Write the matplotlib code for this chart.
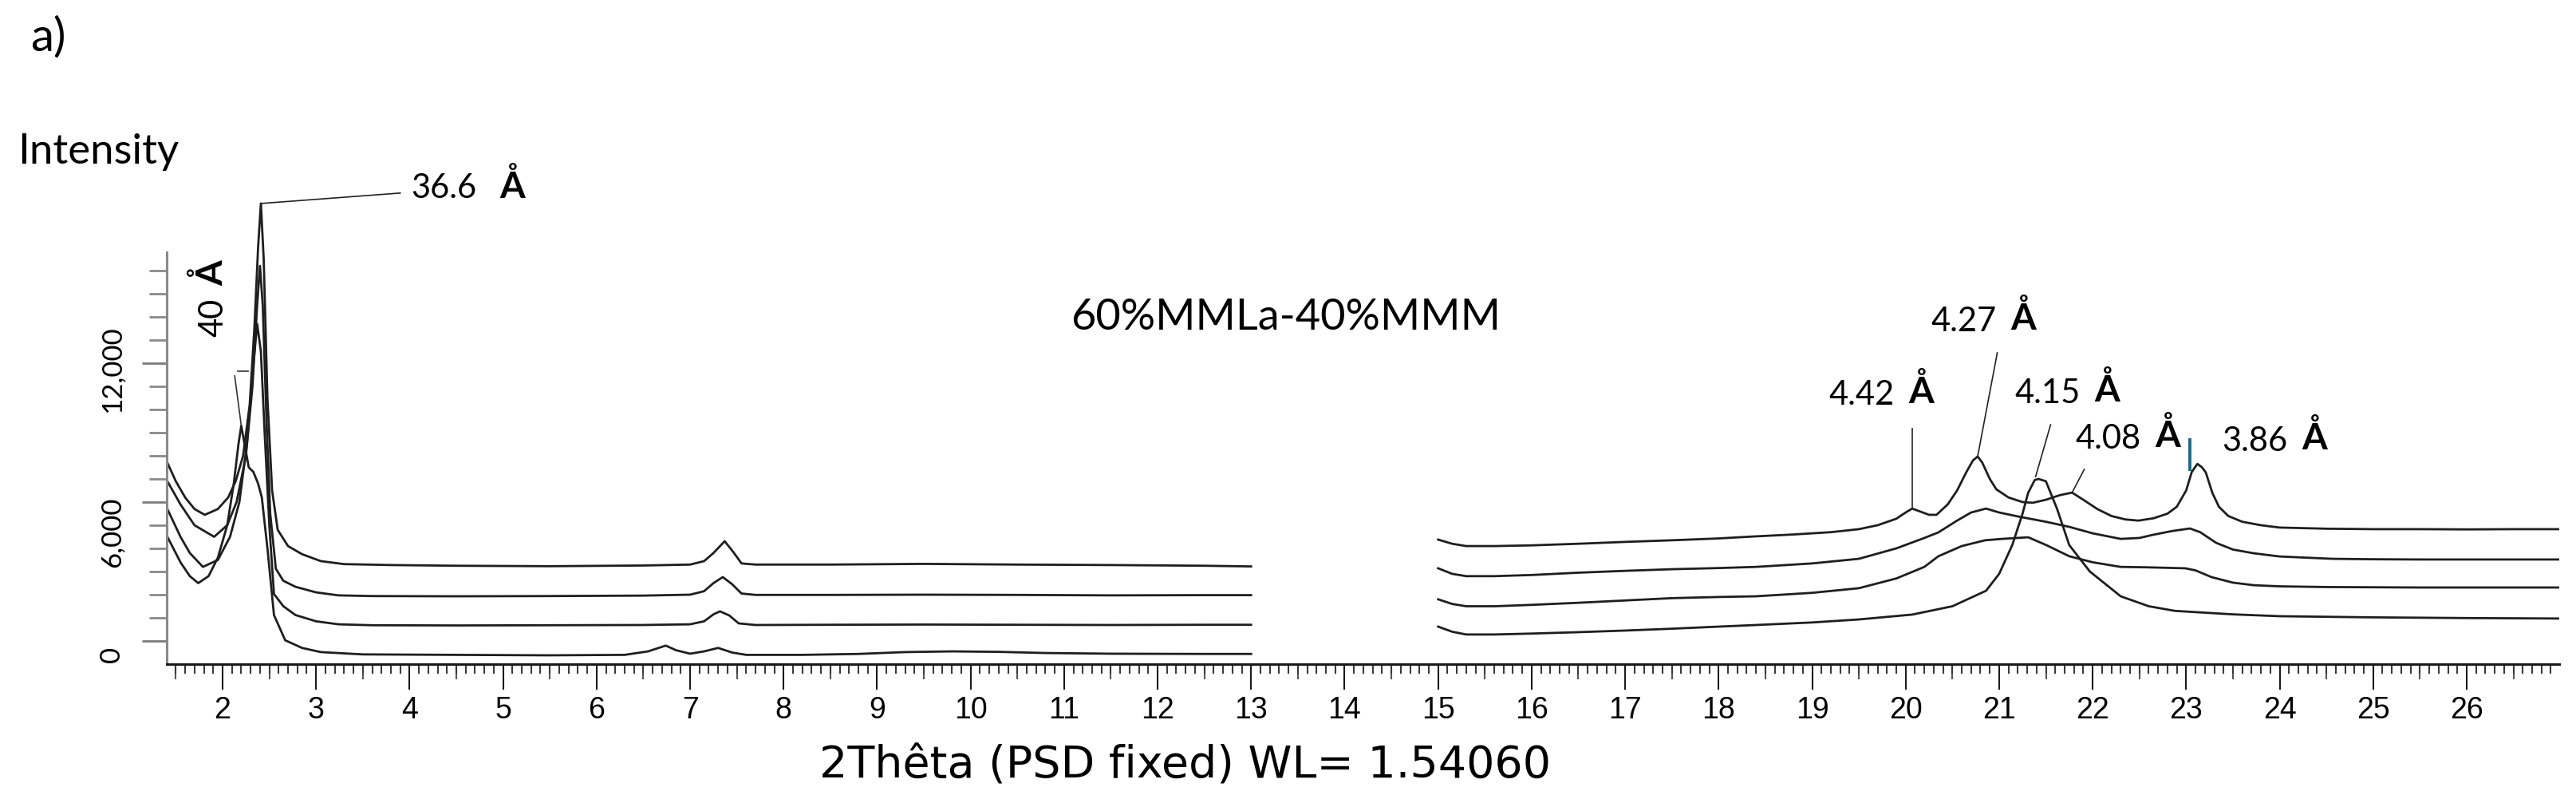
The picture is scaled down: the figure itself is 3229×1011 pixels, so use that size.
import numpy as np
import matplotlib
matplotlib.use("Agg")
import matplotlib.pyplot as plt
import matplotlib.transforms as mtransforms
from matplotlib.ticker import MultipleLocator, FixedLocator

# ---------------- data (2theta in degrees, intensity in counts) ----------------
# Curve A (top trace)
a_left_x = [1.41, 1.50, 1.60, 1.70, 1.81, 1.95, 2.06, 2.14, 2.22, 2.29, 2.34, 2.38, 2.41, 2.44, 2.48,
            2.53, 2.59, 2.70, 2.85, 3.05, 3.30, 3.80, 4.50, 5.50, 6.50, 7.00, 7.15, 7.25, 7.37, 7.47,
            7.55, 7.70, 8.50, 9.50, 10.50, 11.50, 12.50, 13.00]
a_left_y = [7700, 6900, 6200, 5700, 5450, 5700, 6200, 6900, 8000, 10200, 13500, 17000, 18900, 16500, 10500,
            6500, 4800, 4100, 3750, 3450, 3320, 3280, 3250, 3230, 3260, 3300, 3450, 3800, 4310, 3800,
            3350, 3300, 3300, 3330, 3300, 3280, 3250, 3220]
a_right_x = [15.0, 15.15, 15.3, 15.6, 16.0, 16.5, 17.0, 17.5, 18.0, 18.4, 18.8, 19.2, 19.5, 19.7, 19.9,
             20.0, 20.07, 20.15, 20.25, 20.33, 20.45, 20.55, 20.65, 20.72, 20.77, 20.82, 20.9, 20.97,
             21.1, 21.25, 21.36, 21.5, 21.65, 21.78, 21.9, 22.05, 22.2, 22.35, 22.49, 22.65, 22.8,
             22.9, 23.0, 23.06, 23.12, 23.17, 23.21, 23.28, 23.35, 23.45, 23.6, 23.8, 24.0, 24.5,
             25.0, 25.5, 26.0, 26.5, 26.99]
a_right_y = [4380, 4200, 4100, 4100, 4130, 4200, 4280, 4350, 4430, 4520, 4600, 4700, 4830, 5000, 5280,
             5550, 5720, 5600, 5450, 5450, 5900, 6500, 7300, 7800, 7970, 7700, 7000, 6550,
             6200, 6000, 5970, 6100, 6300, 6410, 6100, 5700, 5400, 5250, 5200, 5300, 5500,
             5800, 6500, 7300, 7650, 7500, 7280, 6400, 5800, 5400, 5150, 5000, 4900, 4850,
             4830, 4830, 4820, 4830, 4830]

# Curve B
b_left_x = [1.41, 1.55, 1.70, 1.91, 2.05, 2.15, 2.25, 2.32, 2.37, 2.40, 2.43, 2.47, 2.51, 2.57, 2.65,
            2.78, 3.00, 3.24, 3.60, 4.50, 5.50, 6.50, 7.00, 7.15, 7.25, 7.35, 7.45, 7.55, 7.70, 8.50,
            9.50, 10.50, 11.50, 12.50, 13.00]
b_left_y = [6900, 5900, 5000, 4500, 5000, 6000, 8000, 11000, 14500, 16200, 14500, 9500, 5500, 3120, 2600,
            2340, 2100, 1970, 1940, 1930, 1940, 1960, 2000, 2150, 2500, 2760, 2450, 2050, 1990, 1990,
            2000, 1990, 1970, 1980, 1980]
b_right_x = [15.0, 15.15, 15.3, 15.6, 16.0, 16.5, 17.0, 17.5, 18.0, 18.4, 19.0, 19.5, 19.9, 20.2, 20.35,
             20.55, 20.7, 20.86, 21.0, 21.2, 21.5, 21.75, 22.0, 22.3, 22.5, 22.65, 22.85, 23.04, 23.15,
             23.32, 23.5, 23.72, 24.0, 24.56, 25.0, 25.5, 26.0, 26.5, 26.99]
b_right_y = [3140, 2900, 2800, 2800, 2850, 2950, 3030, 3100, 3150, 3200, 3350, 3550, 4000, 4450, 4690,
             5200, 5550, 5720, 5550, 5380, 5150, 4930, 4650, 4410, 4450, 4590, 4750, 4860, 4700,
             4240, 3950, 3790, 3650, 3550, 3530, 3520, 3520, 3520, 3520]

# Curve C
c_left_x = [1.41, 1.55, 1.65, 1.79, 1.95, 2.08, 2.18, 2.26, 2.32, 2.37, 2.41, 2.45, 2.50, 2.55, 2.65,
            2.78, 3.00, 3.24, 3.60, 4.50, 5.50, 6.50, 7.00, 7.15, 7.25, 7.32, 7.42, 7.52, 7.70, 8.50,
            9.50, 10.50, 11.50, 12.50, 13.00]
c_left_y = [5700, 4500, 3800, 3200, 3500, 4500, 6000, 8500, 11500, 13700, 12500, 9000, 5000, 2030, 1500,
            1120, 850, 720, 680, 670, 680, 690, 720, 850, 1150, 1280, 1100, 760, 690, 700,
            710, 700, 690, 700, 700]
c_right_x = [15.0, 15.15, 15.3, 15.6, 16.0, 16.5, 17.0, 17.5, 18.0, 18.4, 19.0, 19.5, 19.9, 20.2, 20.35,
             20.6, 20.85, 21.03, 21.31, 21.5, 21.75, 22.0, 22.3, 22.6, 22.99, 23.1, 23.27, 23.5, 23.72,
             24.0, 24.5, 25.0, 25.5, 26.0, 26.5, 26.99]
c_right_y = [1800, 1600, 1500, 1500, 1560, 1650, 1750, 1850, 1900, 1930, 2080, 2280, 2700, 3200, 3660,
             4100, 4350, 4410, 4480, 4150, 3660, 3400, 3200, 3180, 3140, 3050, 2760, 2520, 2410,
             2360, 2330, 2320, 2310, 2310, 2310, 2310]

# Curve D (bottom trace)
d_left_x = [1.41, 1.55, 1.65, 1.74, 1.85, 1.95, 2.05, 2.12, 2.17, 2.20, 2.24, 2.28, 2.33, 2.38, 2.42,
            2.48, 2.55, 2.67, 2.85, 3.05, 3.50, 4.50, 5.50, 6.30, 6.55, 6.74, 6.85, 7.00, 7.15, 7.30,
            7.45, 7.60, 8.20, 8.80, 9.30, 9.80, 10.30, 10.80, 11.50, 12.50, 13.00]
d_left_y = [4500, 3400, 2800, 2500, 2800, 3600, 5000, 6800, 8500, 9300, 8400, 7500, 7300, 6800, 6200,
            4000, 1120, 30, -300, -480, -580, -600, -620, -600, -450, -200, -400, -550, -450, -300,
            -500, -600, -600, -560, -480, -450, -470, -520, -550, -560, -560]
d_right_x = [15.0, 15.15, 15.3, 15.6, 16.0, 16.5, 17.0, 17.5, 18.0, 18.4, 19.0, 19.5, 20.07, 20.5, 20.86,
             21.0, 21.14, 21.25, 21.31, 21.38, 21.42, 21.5, 21.56, 21.62, 21.75, 21.97, 22.3, 22.6,
             22.88, 23.5, 24.0, 25.0, 26.0, 26.99]
d_right_y = [620, 400, 280, 280, 320, 380, 450, 530, 620, 690, 800, 930, 1140, 1500, 2170,
             2900, 4140, 5500, 6400, 6950, 7000, 6900, 6300, 5700, 4140, 3000, 1930, 1500,
             1300, 1150, 1070, 1020, 990, 970]

# Peak annotations: label, leader line start/end (2theta, counts)
peak_labels = ["36.6", "4.42", "4.27", "4.15", "4.08", "3.86"]
leader_x = [[2.41, 3.90], [20.07, 20.07], [20.98, 20.77], [21.55, 21.39], [21.91, 21.78]]
leader_y = [[18900, 19350], [9170, 5720], [12450, 7970], [9340, 7100], [7410, 6410]]
marker_386_x = [23.04, 23.04]
marker_386_y = [8760, 7340]
label_40 = "40"
leader_40_x = [[2.13, 2.20], [2.16, 2.27]]
leader_40_y = [[11450, 9300], [11650, 11650]]

x_major = list(range(2, 27))
y_major = [0, 6000, 12000]
y_major_labels = ["0", "6,000", "12,000"]

sample_title = "60%MMLa-40%MMM"
x_title = "2Thêta (PSD fixed) WL= 1.54060"
y_title = "Intensity"
panel = "a)"

# ---------------- figure ----------------
W, H = 3230, 1011
fig = plt.figure(figsize=(W / 100, H / 100), dpi=100)
fig.patch.set_facecolor("white")

def fx(p):
    return p / W

def fy(p):
    return 1 - p / H

ax = fig.add_axes([fx(209), fy(832), (3208 - 209) / W, (832 - 223) / H])
ax.set_xlim(1.403, 26.99)
ax.set_ylim(-1000, 20000)

line_kw = dict(color="#1e1e1e", lw=2.0, solid_joinstyle="round")
for xs, ys in [(a_left_x, a_left_y), (a_right_x, a_right_y),
               (b_left_x, b_left_y), (b_right_x, b_right_y),
               (c_left_x, c_left_y), (c_right_x, c_right_y),
               (d_left_x, d_left_y), (d_right_x, d_right_y)]:
    ax.plot(xs, ys, **line_kw)

for xs, ys in zip(leader_x, leader_y):
    ax.plot(xs, ys, color="#222222", lw=1.2)
for xs, ys in zip(leader_40_x, leader_40_y):
    ax.plot(xs, ys, color="#333333", lw=1.2)
ax.plot(marker_386_x, marker_386_y, color="#1b6a8a", lw=2.8, solid_capstyle="butt")

# spines
for s in ["top", "right"]:
    ax.spines[s].set_visible(False)
ax.spines["bottom"].set_color("#1a1a1a")
ax.spines["bottom"].set_linewidth(2.2)
ax.spines["left"].set_color("#8a8a8a")
ax.spines["left"].set_linewidth(2.2)
ax.spines["left"].set_bounds(-1000, 16800)

# x ticks
ax.xaxis.set_major_locator(FixedLocator(x_major))
ax.xaxis.set_minor_locator(MultipleLocator(0.1))
ax.tick_params(axis="x", which="major", direction="out", length=23, width=1.5,
               color="#1a1a1a", pad=6, labelsize=27)
ax.tick_params(axis="x", which="minor", direction="out", length=8.5, width=1.5, color="#3a3a3a")
for lab in ax.get_xticklabels():
    lab.set_fontfamily("Liberation Sans")

half = ax.secondary_xaxis("bottom")
half.set_xticks([v + 0.5 for v in range(1, 27)])
half.set_xticklabels([])
half.tick_params(axis="x", direction="out", length=14, width=1.5, color="#555555")
half.spines["bottom"].set_visible(False)

# y ticks
ax.yaxis.set_major_locator(FixedLocator(y_major))
ax.yaxis.set_minor_locator(FixedLocator([v for v in range(1000, 17000, 1000) if v not in y_major]))
ax.set_yticklabels(y_major_labels, rotation=90, va="center", fontfamily="Lato", fontsize=25)
ax.tick_params(axis="y", which="major", direction="out", length=22, width=2.0, color="#7a7a7a", pad=16)
ax.tick_params(axis="y", which="minor", direction="out", length=16, width=2.0, color="#8a8a8a")
# the reference prints its y labels slightly below their ticks
label_shift_px = [17, 38, 8]
for lab, dy in zip(ax.get_yticklabels(), label_shift_px):
    lab.set_transform(lab.get_transform() +
                      mtransforms.ScaledTranslation(0, -dy / 100, fig.dpi_scale_trans))

# texts
fig.text(fx(38), fy(63), panel, fontfamily="Lato", fontsize=42, va="baseline", ha="left")
fig.text(fx(22), fy(205), y_title, fontfamily="Lato", fontsize=38, va="baseline", ha="left")
fig.text(fx(1612), fy(413), sample_title, fontfamily="Lato", fontsize=39, va="baseline", ha="center")
fig.text(fx(1486), fy(975), x_title, fontfamily="DejaVu Sans", fontsize=40, va="baseline", ha="center")

num_pos = [(515, 248), (2292, 507), (2420, 415), (2525, 505), (2601, 562), (2785, 565)]
ang_pos = [(626, 248), (2392, 505), (2520, 413), (2625, 503), (2701, 560), (2885, 563)]
for lab, (nx, ny), (axx, ayy) in zip(peak_labels, num_pos, ang_pos):
    fig.text(fx(nx), fy(ny), lab, fontfamily="Lato", fontsize=30, va="baseline", ha="left")
    fig.text(fx(axx), fy(ayy), "Å", fontfamily="Lato", fontsize=33, fontweight="bold",
             va="baseline", ha="left")

fig.text(fx(248), fy(422), label_40, fontfamily="Lato", fontsize=30, rotation=90,
         ha="left", va="bottom")
fig.text(fx(243), fy(358), "Å", fontfamily="Lato", fontsize=33, fontweight="bold", rotation=90,
         ha="left", va="bottom")

fig.savefig("out.png", dpi=100, facecolor="white")
